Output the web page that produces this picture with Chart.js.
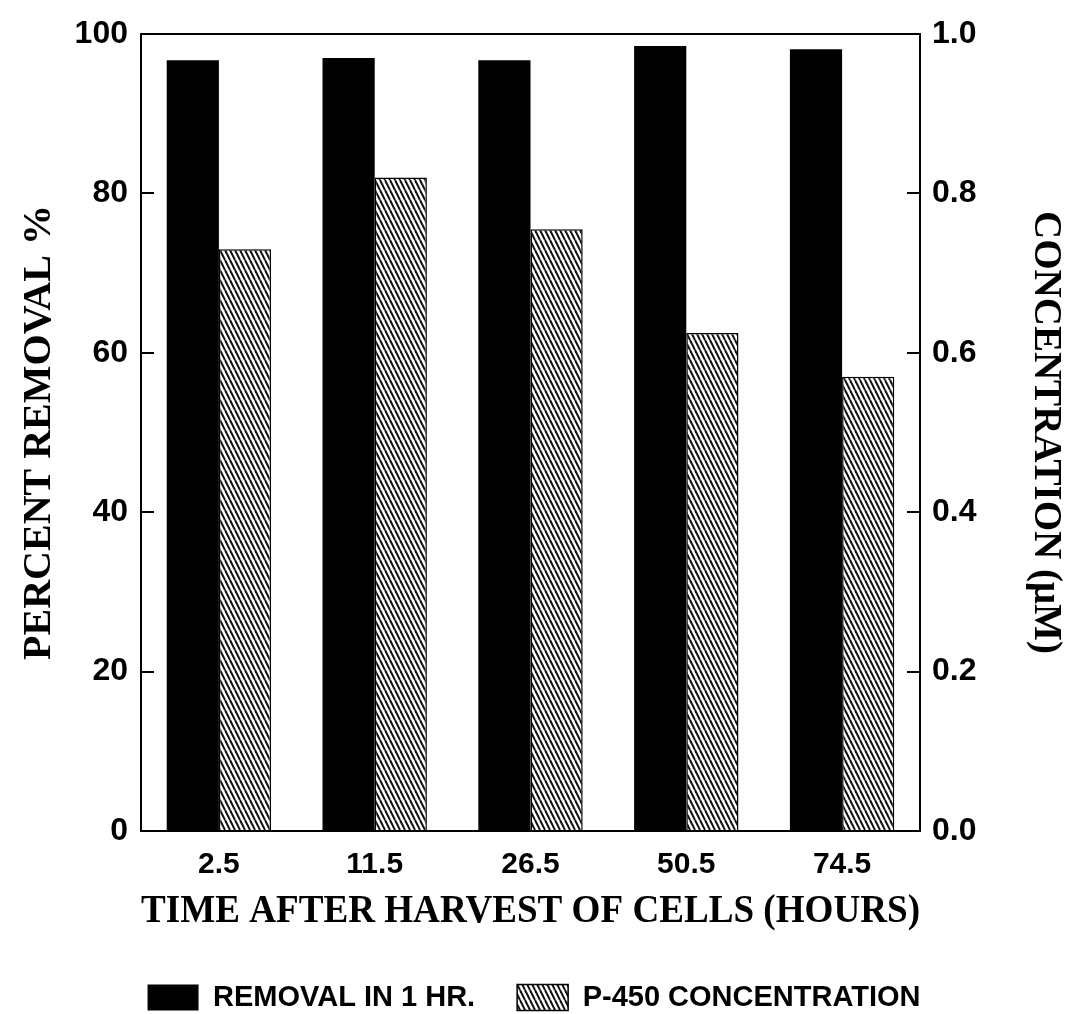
<!DOCTYPE html>
<html>
<head>
<meta charset="utf-8">
<script src="https://cdn.jsdelivr.net/npm/chart.js@4.4.1/dist/chart.umd.min.js"></script>
<style>
  html, body { margin: 0; padding: 0; background: #ffffff; }
  #wrap { width: 1068px; height: 1014px; }
</style>
</head>
<body>
<div id="wrap"><canvas id="chart" width="1068" height="1014"></canvas></div>
<script>
// Valores
const categories = ['2.5', '11.5', '26.5', '50.5', '74.5'];
const removalPct = [96.7, 97.0, 96.7, 98.5, 98.1];
const p450Conc = [0.73, 0.82, 0.755, 0.625, 0.57];
const leftTicks = [0, 20, 40, 60, 80, 100];
const rightTicks = [0.0, 0.2, 0.4, 0.6, 0.8, 1.0];

const sans = "'Liberation Sans', Arial, sans-serif";
const serif = "'Liberation Serif', 'Times New Roman', serif";

// Hachura diagonal (\\\\) para a série de concentração
function makeHatch(ctx) {
    const tile = document.createElement('canvas');
    tile.width = 5;
    tile.height = 10;
    const t = tile.getContext('2d');
    t.fillStyle = '#ffffff';
    t.fillRect(0, 0, 5, 10);
    t.strokeStyle = '#111111';
    t.lineWidth = 2;
    for (let x0 = -5; x0 <= 5; x0 += 5) {
        t.beginPath();
        t.moveTo(x0, 0);
        t.lineTo(x0 + 5, 10);
        t.stroke();
    }
    return ctx.createPattern(tile, 'repeat');
}

// Moldura e marcas de escala voltadas para dentro
const framePlugin = {
    id: 'frame',
    afterDraw(chart) {
        const { ctx, chartArea: a, scales } = chart;
        ctx.save();
        ctx.strokeStyle = '#000000';
        ctx.lineWidth = 2;
        ctx.strokeRect(a.left, a.top, a.right - a.left, a.bottom - a.top);
        scales.y.ticks.forEach(t => {
            const py = Math.round(scales.y.getPixelForValue(t.value));
            ctx.beginPath();
            ctx.moveTo(a.left, py);
            ctx.lineTo(a.left + 13, py);
            ctx.stroke();
        });
        scales.y2.ticks.forEach(t => {
            const py = Math.round(scales.y2.getPixelForValue(t.value));
            ctx.beginPath();
            ctx.moveTo(a.right, py);
            ctx.lineTo(a.right - 13, py);
            ctx.stroke();
        });
        ctx.restore();
    }
};

const canvas = document.getElementById('chart');
const ctx = canvas.getContext('2d');
const hatch = makeHatch(ctx);

new Chart(ctx, {
    type: 'bar',
    data: {
        labels: categories,
        datasets: [
            {
                label: 'REMOVAL IN 1 HR.',
                data: removalPct,
                yAxisID: 'y',
                backgroundColor: '#000000',
                borderWidth: 0,
                categoryPercentage: 0.67,
                barPercentage: 1.0
            },
            {
                label: 'P-450 CONCENTRATION',
                data: p450Conc,
                yAxisID: 'y2',
                backgroundColor: hatch,
                borderColor: '#000000',
                borderWidth: 1.5,
                categoryPercentage: 0.67,
                barPercentage: 1.0
            }
        ]
    },
    options: {
        responsive: false,
        animation: false,
        layout: { padding: { top: 34, left: 0, right: 0, bottom: -8 } },
        plugins: {
            tooltip: { enabled: false },
            legend: {
                position: 'bottom',
                labels: {
                    color: '#000000',
                    font: { family: sans, size: 29, weight: 'bold' },
                    boxWidth: 51,
                    boxHeight: 26,
                    padding: 42
                }
            }
        },
        scales: {
            x: {
                grid: { display: false, drawTicks: false },
                border: { display: false },
                ticks: {
                    color: '#000000',
                    font: { family: sans, size: 30, weight: 'bold' },
                    padding: 16,
                    maxRotation: 0
                },
                title: {
                    display: true,
                    text: 'TIME AFTER HARVEST OF CELLS (HOURS)',
                    color: '#000000',
                    font: { family: serif, size: 39, weight: 'bold' },
                    padding: { top: 0, bottom: 6 }
                },
                afterFit(scale) { scale.height = 110; }
            },
            y: {
                position: 'left',
                min: 0,
                max: 100,
                afterBuildTicks(scale) { scale.ticks = leftTicks.map(v => ({ value: v })); },
                grid: { display: false, drawTicks: false },
                border: { display: false },
                ticks: {
                    color: '#000000',
                    font: { family: sans, size: 32, weight: 'bold' },
                    padding: 13
                },
                title: {
                    display: true,
                    text: 'PERCENT REMOVAL %',
                    color: '#000000',
                    font: { family: serif, size: 40, weight: 'bold' },
                    padding: { top: 16, bottom: 0 }
                },
                afterFit(scale) { scale.width = 141; }
            },
            y2: {
                position: 'right',
                min: 0,
                max: 1,
                afterBuildTicks(scale) { scale.ticks = rightTicks.map(v => ({ value: v })); },
                grid: { display: false, drawTicks: false },
                border: { display: false },
                ticks: {
                    color: '#000000',
                    font: { family: sans, size: 32, weight: 'bold' },
                    padding: 12,
                    callback: v => Number(v).toFixed(1)
                },
                title: {
                    display: true,
                    text: 'CONCENTRATION (μM)',
                    color: '#000000',
                    font: { family: serif, size: 39, weight: 'bold' },
                    padding: { top: 0, bottom: 0 }
                },
                afterFit(scale) { scale.width = 148; }
            }
        }
    },
    plugins: [framePlugin]
});
</script>
</body>
</html>
